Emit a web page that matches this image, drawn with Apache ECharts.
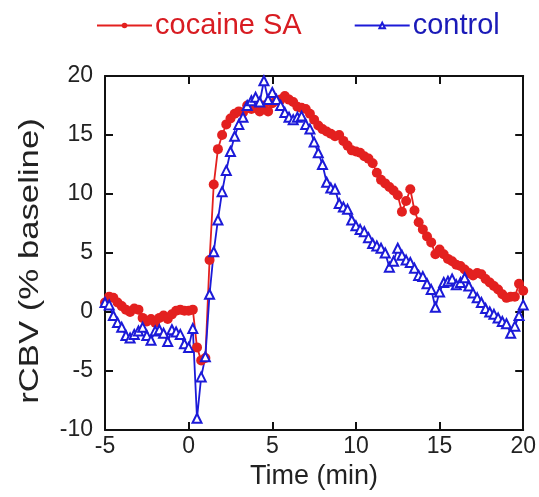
<!DOCTYPE html>
<html>
<head>
<meta charset="utf-8">
<script src="https://cdn.jsdelivr.net/npm/echarts@6/dist/echarts.min.js"></script>
<style>html,body{margin:0;padding:0;background:#fff;}#c{width:539px;height:497px;}</style>
</head>
<body>
<div id="c"></div>
<script>
// Time (min)
var times = [-5,-4.75,-4.5,-4.25,-4,-3.75,-3.5,-3.25,-3,-2.75,-2.5,-2.25,-2,-1.75,-1.5,-1.25,-1,-0.75,-0.5,-0.25,
  0,0.25,0.5,0.75,1,1.25,1.5,1.75,2,2.25,2.5,2.75,3,3.25,3.5,3.75,4,4.25,4.5,4.75,
  5,5.25,5.5,5.75,6,6.25,6.5,6.75,7,7.25,7.5,7.75,8,8.25,8.5,8.75,9,9.25,9.5,9.75,
  10,10.25,10.5,10.75,11,11.25,11.5,11.75,12,12.25,12.5,12.75,13,13.25,13.5,13.75,14,14.25,14.5,14.75,
  15,15.25,15.5,15.75,16,16.25,16.5,16.75,17,17.25,17.5,17.75,18,18.25,18.5,18.75,19,19.25,19.5,19.75,20];
// rCBV (% baseline), cocaine SA
var cocaineSA = [0.8,1.3,1.2,0.8,0.5,0.2,0.0,0.3,0.2,-0.5,-0.8,-0.6,-0.9,-0.5,-0.3,-0.6,-0.2,0.1,0.2,0.1,
  0.1,0.2,-3.0,-4.1,-3.9,4.4,10.8,13.8,15.0,15.9,16.4,16.8,17.0,16.9,17.5,17.2,17.3,17.0,17.5,17.0,
  17.7,17.9,18.0,18.3,18.0,17.8,17.4,17.3,17.2,16.8,16.3,15.8,15.5,15.3,15.1,14.9,15.0,14.5,14.1,13.7,
  13.6,13.5,13.2,13.0,12.6,11.8,11.2,10.9,10.6,10.3,9.9,8.5,9.4,10.4,8.6,7.6,7.0,6.4,5.9,4.9,
  5.3,4.9,4.5,4.3,4.0,3.9,3.6,3.3,3.1,3.3,3.2,2.8,2.5,2.2,1.9,1.5,1.2,1.3,1.3,2.4,1.8];
// rCBV (% baseline), control
var control = [0.8,0.6,-0.3,-0.9,-1.3,-2.0,-2.2,-1.9,-1.6,-1.3,-2.0,-2.4,-1.6,-1.5,-1.8,-2.5,-1.5,-1.7,-1.9,-2.7,
  -3.0,-1.4,-9.0,-5.5,-3.8,1.5,5.1,7.8,10.2,12.0,13.6,14.9,15.9,16.5,17.5,17.9,18.2,17.8,19.6,18.0,
  18.6,18.0,17.5,16.9,16.5,16.3,16.5,16.6,15.9,15.5,14.4,13.5,12.5,11.0,10.5,10.4,9.2,8.9,8.7,7.8,
  7.3,7.0,6.8,6.3,5.8,5.6,5.4,5.0,3.8,4.3,5.4,4.8,4.4,4.2,3.7,3.1,3.0,2.4,1.9,0.4,
  1.7,2.5,2.6,2.8,2.3,2.5,2.9,2.2,1.6,1.2,0.8,0.3,0.0,-0.2,-0.5,-0.8,-1.0,-1.8,-1.2,-0.3,0.6];
var xTicks = [-5, 0, 5, 10, 15, 20];
var yTicks = [-10, -5, 0, 5, 10, 15, 20];
var xTitle = 'Time (min)';
var yTitle = 'rCBV (% baseline)';

var RED = '#e3201f', BLUE = '#1c1ad8';
var FONT = 'Liberation Sans, Arial, sans-serif';
function pairs(v){ return times.map(function(t,i){ return [t, v[i]]; }); }

var chart = echarts.init(document.getElementById('c'));
var axisLine = {show:true, onZero:false, lineStyle:{color:'#111', width:2}};
var tick = {show:true, inside:true, length:8, lineStyle:{color:'#111', width:2}};
chart.setOption({
  animation:false,
  backgroundColor:'#fff',
  legend:{
    left:91, top:6, itemWidth:55, itemHeight:7, itemGap:52,
    textStyle:{fontFamily:FONT, fontSize:29, padding:[0,0,0,-2]},
    data:[
      {name:'cocaine SA', textStyle:{color:'#d81c22'}},
      {name:'control', textStyle:{color:'#1a1ab8'}}
    ]
  },
  grid:{left:105, right:15, top:76, bottom:67},
  graphic:[{
    type:'text', silent:true,
    rotation:Math.PI/2, scaleX:1.24, x:30, y:261,
    style:{text:yTitle, font:'28px Liberation Sans, Arial, sans-serif', fill:'#222',
           textAlign:'center', textVerticalAlign:'middle'}
  }],
  xAxis:[{
    type:'value', min:-5, max:20, interval:5, position:'bottom',
    name:xTitle, nameLocation:'middle', nameGap:33,
    nameTextStyle:{fontFamily:FONT, fontSize:27, color:'#222'},
    axisLine:axisLine, axisTick:tick, splitLine:{show:false},
    axisLabel:{fontFamily:FONT, fontSize:23, color:'#222', margin:5}
  },{
    type:'value', min:-5, max:20, interval:5, position:'top',
    axisLine:axisLine, axisTick:tick, splitLine:{show:false}, axisLabel:{show:false}
  }],
  yAxis:[{
    type:'value', min:-10, max:20, interval:5, position:'left',
    axisLine:axisLine, axisTick:tick, splitLine:{show:false},
    axisLabel:{fontFamily:FONT, fontSize:23, color:'#222', margin:12}
  },{
    type:'value', min:-10, max:20, interval:5, position:'right',
    axisLine:axisLine, axisTick:tick, splitLine:{show:false}, axisLabel:{show:false}
  }],
  series:[{
    name:'cocaine SA', type:'line', data:pairs(cocaineSA),
    symbol:'circle', symbolSize:10, color:RED,
    lineStyle:{color:RED, width:1.8}, itemStyle:{color:RED}
  },{
    name:'control', type:'line', data:pairs(control),
    symbol:'emptyTriangle', symbolSize:9, color:BLUE,
    lineStyle:{color:BLUE, width:1.8}, itemStyle:{color:BLUE, borderWidth:2}
  }]
});
</script>
</body>
</html>
